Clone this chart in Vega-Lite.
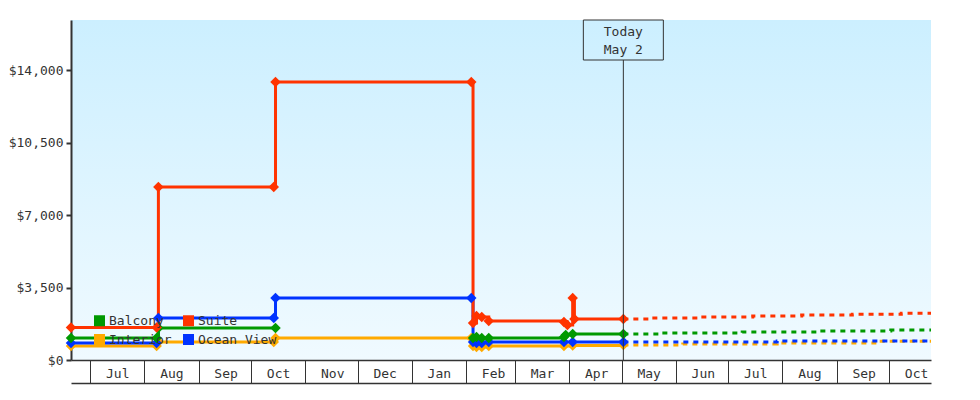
{
  "$schema": "https://vega.github.io/schema/vega-lite/v6.json",
  "width": 860,
  "height": 340,
  "autosize": "none",
  "padding": {"left": 71, "top": 20, "right": 49, "bottom": 40},
  "background": "white",
  "config": {
    "view": {
      "stroke": null,
      "fill": {
        "gradient": "linear",
        "x1": 0, "y1": 0, "x2": 0, "y2": 1,
        "stops": [
          {"offset": 0, "color": "#ccefff"},
          {"offset": 1, "color": "#f0faff"}
        ]
      }
    },
    "font": "DejaVu Sans Mono",
    "axis": {
      "labelFont": "DejaVu Sans Mono",
      "labelFontSize": 13,
      "labelColor": "#333",
      "domainColor": "#333",
      "tickColor": "#333",
      "grid": false,
      "title": null
    },
    "legend": {
      "labelFont": "DejaVu Sans Mono",
      "labelFontSize": 13,
      "labelColor": "#333"
    }
  },
  "datasets": {
    "history": [
      {"room": "Interior", "seg": "a", "date": "2022-06-20", "price": 676},
      {"room": "Interior", "seg": "a", "date": "2022-08-08", "price": 676},
      {"room": "Interior", "seg": "a", "date": "2022-08-09", "price": 869},
      {"room": "Interior", "seg": "a", "date": "2022-10-14", "price": 869},
      {"room": "Interior", "seg": "a", "date": "2022-10-15", "price": 1062},
      {"room": "Interior", "seg": "a", "date": "2023-02-04", "price": 1062},
      {"room": "Interior", "seg": "a", "date": "2023-02-05", "price": 676},
      {"room": "Interior", "seg": "a", "date": "2023-02-07", "price": 630},
      {"room": "Interior", "seg": "a", "date": "2023-02-10", "price": 630},
      {"room": "Interior", "seg": "a", "date": "2023-02-14", "price": 676},
      {"room": "Interior", "seg": "a", "date": "2023-03-29", "price": 676},
      {"room": "Interior", "seg": "a", "date": "2023-04-03", "price": 700},
      {"room": "Interior", "seg": "a", "date": "2023-05-02", "price": 724},
      {"room": "Ocean View", "seg": "a", "date": "2022-06-20", "price": 820},
      {"room": "Ocean View", "seg": "a", "date": "2022-08-08", "price": 820},
      {"room": "Ocean View", "seg": "a", "date": "2022-08-09", "price": 2028},
      {"room": "Ocean View", "seg": "a", "date": "2022-10-14", "price": 2028},
      {"room": "Ocean View", "seg": "a", "date": "2022-10-15", "price": 2993},
      {"room": "Ocean View", "seg": "a", "date": "2023-02-04", "price": 2993},
      {"room": "Ocean View", "seg": "a", "date": "2023-02-05", "price": 869},
      {"room": "Ocean View", "seg": "a", "date": "2023-02-07", "price": 820},
      {"room": "Ocean View", "seg": "a", "date": "2023-02-10", "price": 820},
      {"room": "Ocean View", "seg": "a", "date": "2023-02-14", "price": 869},
      {"room": "Ocean View", "seg": "a", "date": "2023-03-29", "price": 869},
      {"room": "Ocean View", "seg": "a", "date": "2023-04-03", "price": 869},
      {"room": "Ocean View", "seg": "a", "date": "2023-05-02", "price": 869},
      {"room": "Balcony", "seg": "a", "date": "2022-06-20", "price": 1062},
      {"room": "Balcony", "seg": "a", "date": "2022-08-08", "price": 1062},
      {"room": "Balcony", "seg": "a", "date": "2022-08-09", "price": 1545},
      {"room": "Balcony", "seg": "a", "date": "2022-10-15", "price": 1545},
      {"room": "Balcony", "seg": "b", "date": "2023-02-05", "price": 1062},
      {"room": "Balcony", "seg": "b", "date": "2023-02-07", "price": 1110},
      {"room": "Balcony", "seg": "b", "date": "2023-02-10", "price": 1062},
      {"room": "Balcony", "seg": "b", "date": "2023-02-14", "price": 1062},
      {"room": "Balcony", "seg": "b", "date": "2023-03-29", "price": 1110},
      {"room": "Balcony", "seg": "b", "date": "2023-03-30", "price": 1207},
      {"room": "Balcony", "seg": "b", "date": "2023-04-03", "price": 1255},
      {"room": "Balcony", "seg": "b", "date": "2023-05-02", "price": 1255},
      {"room": "Suite", "seg": "a", "date": "2022-06-20", "price": 1570},
      {"room": "Suite", "seg": "a", "date": "2022-08-08", "price": 1570},
      {"room": "Suite", "seg": "a", "date": "2022-08-09", "price": 8352},
      {"room": "Suite", "seg": "a", "date": "2022-10-14", "price": 8352},
      {"room": "Suite", "seg": "a", "date": "2022-10-15", "price": 13421},
      {"room": "Suite", "seg": "a", "date": "2023-02-04", "price": 13421},
      {"room": "Suite", "seg": "a", "date": "2023-02-05", "price": 1786},
      {"room": "Suite", "seg": "a", "date": "2023-02-07", "price": 2124},
      {"room": "Suite", "seg": "a", "date": "2023-02-10", "price": 2076},
      {"room": "Suite", "seg": "a", "date": "2023-02-14", "price": 1883},
      {"room": "Suite", "seg": "a", "date": "2023-03-29", "price": 1834},
      {"room": "Suite", "seg": "a", "date": "2023-03-31", "price": 1690},
      {"room": "Suite", "seg": "a", "date": "2023-04-03", "price": 2993},
      {"room": "Suite", "seg": "a", "date": "2023-04-04", "price": 1979},
      {"room": "Suite", "seg": "a", "date": "2023-05-02", "price": 1979}
    ],
    "forecast": [
      {"room": "Interior", "date": "2023-05-02", "price": 724},
      {"room": "Interior", "date": "2023-06-05", "price": 772},
      {"room": "Interior", "date": "2023-07-29", "price": 820},
      {"room": "Interior", "date": "2023-09-24", "price": 900},
      {"room": "Interior", "date": "2023-10-25", "price": 900},
      {"room": "Ocean View", "date": "2023-05-02", "price": 869},
      {"room": "Ocean View", "date": "2023-07-29", "price": 917},
      {"room": "Ocean View", "date": "2023-10-25", "price": 917},
      {"room": "Balcony", "date": "2023-05-02", "price": 1255},
      {"room": "Balcony", "date": "2023-05-24", "price": 1303},
      {"room": "Balcony", "date": "2023-07-09", "price": 1352},
      {"room": "Balcony", "date": "2023-08-21", "price": 1400},
      {"room": "Balcony", "date": "2023-10-02", "price": 1448},
      {"room": "Balcony", "date": "2023-10-25", "price": 1448},
      {"room": "Suite", "date": "2023-05-02", "price": 1979},
      {"room": "Suite", "date": "2023-05-18", "price": 2028},
      {"room": "Suite", "date": "2023-06-15", "price": 2076},
      {"room": "Suite", "date": "2023-07-15", "price": 2124},
      {"room": "Suite", "date": "2023-08-12", "price": 2172},
      {"room": "Suite", "date": "2023-09-10", "price": 2210},
      {"room": "Suite", "date": "2023-10-08", "price": 2260},
      {"room": "Suite", "date": "2023-10-25", "price": 2260}
    ],
    "today": [
      {"date": "2023-05-02", "label": ["Today", "May 2"]}
    ]
  },
  "resolve": {"axis": {"x": "independent"}},
  "layer": [
    {
      "data": {"name": "history"},
      "mark": {"type": "line", "interpolate": "step-after", "strokeWidth": 3},
      "encoding": {
        "x": {
          "field": "date",
          "type": "temporal",
          "scale": {
            "type": "utc",
            "domain": [
              {"year": 2022, "month": "jun", "date": 20, "utc": true},
              {"year": 2023, "month": "oct", "date": 25, "utc": true}
            ]
          },
          "axis": {
            "orient": "bottom",
            "format": "%b",
            "tickCount": {"interval": "month", "step": 1},
            "tickSize": 23,
            "labelPadding": -10,
            "labelBaseline": "middle",
            "labelAlign": "center",
            "labelOffset": 27,
            "labelOverlap": false,
            "labelBound": false,
            "domainWidth": 1.5
          }
        },
        "y": {
          "field": "price",
          "type": "quantitative",
          "scale": {"domain": [0, 16414], "nice": false},
          "axis": {
            "values": [0, 3500, 7000, 10500, 14000],
            "format": "$,d",
            "tickSize": 5,
            "tickWidth": 2,
            "domainWidth": 2,
            "labelPadding": 3
          }
        },
        "color": {
          "field": "room",
          "type": "nominal",
          "scale": {
            "domain": ["Balcony", "Suite", "Interior", "Ocean View"],
            "range": ["#009900", "#ff3300", "#ffaa00", "#0033ff"]
          },
          "legend": {
            "orient": "none",
            "direction": "horizontal",
            "legendX": 22,
            "legendY": 294,
            "columns": 2,
            "title": null,
            "symbolType": "square",
            "symbolSize": 121,
            "symbolStrokeWidth": 0,
            "labelOffset": 3,
            "columnPadding": 10,
            "rowPadding": 5,
            "encode": {
              "symbols": {
                "update": {
                  "fill": {"scale": "color", "field": "value"},
                  "fillOpacity": {"value": 1},
                  "strokeWidth": {"value": 0}
                }
              }
            }
          }
        },
        "detail": {"field": "seg"}
      }
    },
    {
      "data": {"name": "forecast"},
      "mark": {"type": "line", "interpolate": "step-after", "strokeWidth": 3, "strokeDash": [5, 5], "strokeDashOffset": -10},
      "encoding": {
        "x": {"field": "date", "type": "temporal", "axis": null},
        "y": {"field": "price", "type": "quantitative"},
        "color": {"field": "room", "type": "nominal"}
      }
    },
    {
      "data": {"name": "history"},
      "mark": {"type": "point", "shape": "diamond", "filled": true, "size": 110, "opacity": 1},
      "encoding": {
        "x": {"field": "date", "type": "temporal", "axis": null},
        "y": {"field": "price", "type": "quantitative"},
        "color": {"field": "room", "type": "nominal"}
      }
    },
    {
      "data": {"name": "today"},
      "mark": {"type": "rule", "color": "#333", "strokeWidth": 1},
      "encoding": {
        "x": {
          "field": "date",
          "type": "temporal",
          "axis": {
            "orient": "bottom",
            "offset": 23,
            "labels": false,
            "ticks": false,
            "domain": true,
            "domainWidth": 1.5
          }
        },
        "y": {"datum": 0},
        "y2": {"datum": 14483}
      }
    },
    {
      "data": {"name": "today"},
      "mark": {
        "type": "point",
        "shape": "M-1,-0.5H1V0.5H-1Z",
        "size": 6400,
        "filled": false,
        "stroke": "#333",
        "strokeWidth": 1,
        "opacity": 1
      },
      "encoding": {
        "x": {"field": "date", "type": "temporal", "axis": null},
        "y": {"datum": 15448}
      }
    },
    {
      "data": {"name": "today"},
      "mark": {
        "type": "text",
        "font": "DejaVu Sans Mono",
        "fontSize": 13,
        "color": "#333",
        "baseline": "middle",
        "align": "center",
        "lineHeight": 18
      },
      "encoding": {
        "x": {"field": "date", "type": "temporal", "axis": null},
        "y": {"datum": 15834},
        "text": {"field": "label"}
      }
    }
  ]
}
